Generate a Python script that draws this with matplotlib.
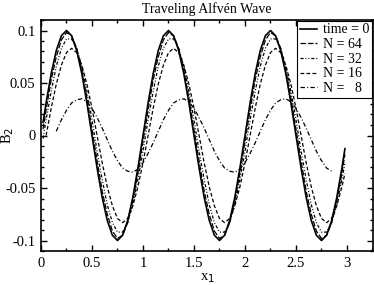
import numpy as np
import matplotlib
matplotlib.use("Agg")
import matplotlib.pyplot as plt
from matplotlib.ticker import MultipleLocator

plt.rcParams["font.family"] = ["Liberation Serif", "DejaVu Serif"]
plt.rcParams["axes.unicode_minus"] = False

# sample grid (0.05 steps) shared by most curves
grid = [round(0.05 * k, 2) for k in range(1, 60)]

# time = 0 (exact wave)
x_t0 = [0.02] + grid + [2.98]
y_t0 = [0.0125,
        0.031, 0.059, 0.081, 0.095, 0.100, 0.095, 0.081, 0.059, 0.031, 0.000,
        -0.031, -0.059, -0.081, -0.095, -0.100, -0.095, -0.081, -0.059, -0.031, 0.000,
        0.031, 0.059, 0.081, 0.095, 0.100, 0.095, 0.081, 0.059, 0.031, 0.000,
        -0.031, -0.059, -0.081, -0.095, -0.100, -0.095, -0.081, -0.059, -0.031, 0.000,
        0.031, 0.059, 0.081, 0.095, 0.100, 0.095, 0.081, 0.059, 0.031, 0.000,
        -0.031, -0.059, -0.081, -0.095, -0.100, -0.095, -0.081, -0.059, -0.031,
        -0.0125]

# N = 64
x_64 = [0.02] + grid + [2.98]
y_64 = [0.006,
        0.024, 0.053, 0.075, 0.091, 0.098, 0.095, 0.083, 0.062, 0.036, 0.006,
        -0.024, -0.053, -0.075, -0.091, -0.098, -0.095, -0.083, -0.062, -0.036, -0.006,
        0.024, 0.053, 0.075, 0.091, 0.098, 0.095, 0.083, 0.062, 0.036, 0.006,
        -0.024, -0.053, -0.075, -0.091, -0.098, -0.095, -0.083, -0.062, -0.036, -0.006,
        0.024, 0.053, 0.075, 0.091, 0.098, 0.095, 0.083, 0.062, 0.036, 0.006,
        -0.024, -0.053, -0.075, -0.091, -0.098, -0.095, -0.083, -0.062, -0.036,
        -0.018]

# N = 32
x_32 = [0.02] + grid + [2.98]
y_32 = [-0.003,
        0.015, 0.042, 0.066, 0.083, 0.092, 0.092, 0.083, 0.066, 0.042, 0.015,
        -0.015, -0.042, -0.066, -0.083, -0.092, -0.092, -0.083, -0.066, -0.042, -0.015,
        0.015, 0.042, 0.066, 0.083, 0.092, 0.092, 0.083, 0.066, 0.042, 0.015,
        -0.015, -0.042, -0.066, -0.083, -0.092, -0.092, -0.083, -0.066, -0.042, -0.015,
        0.015, 0.042, 0.066, 0.083, 0.092, 0.092, 0.083, 0.066, 0.042, 0.015,
        -0.015, -0.042, -0.066, -0.083, -0.092, -0.092, -0.083, -0.066, -0.042,
        -0.026]

# N = 16
x_16 = grid + [2.98]
y_16 = [0.000, 0.026, 0.049, 0.067, 0.079, 0.083, 0.079, 0.067, 0.049, 0.026,
        0.000, -0.026, -0.049, -0.067, -0.079, -0.083, -0.079, -0.067, -0.049, -0.026,
        0.000, 0.026, 0.049, 0.067, 0.079, 0.083, 0.079, 0.067, 0.049, 0.026,
        0.000, -0.026, -0.049, -0.067, -0.079, -0.083, -0.079, -0.067, -0.049, -0.026,
        0.000, 0.026, 0.049, 0.067, 0.079, 0.083, 0.079, 0.067, 0.049, 0.026,
        0.000, -0.026, -0.049, -0.067, -0.079, -0.083, -0.079, -0.067, -0.049,
        -0.036]

# N = 8
x_8 = grid[2:57]
y_8 = [0.004, 0.015, 0.024, 0.031, 0.034, 0.035, 0.032, 0.026, 0.017, 0.007,
       -0.004, -0.015, -0.024, -0.031, -0.034, -0.035, -0.032, -0.026, -0.017, -0.007,
       0.004, 0.015, 0.024, 0.031, 0.034, 0.035, 0.032, 0.026, 0.017, 0.007,
       -0.004, -0.015, -0.024, -0.031, -0.034, -0.035, -0.032, -0.026, -0.017, -0.007,
       0.004, 0.015, 0.024, 0.031, 0.034, 0.035, 0.032, 0.026, 0.017, 0.007,
       -0.004, -0.015, -0.024, -0.031, -0.034]

fig = plt.figure(figsize=(3.74, 2.85), dpi=100)
ax = fig.add_axes([41 / 374, 34 / 285, 332 / 374, 231 / 285])

ax.plot(x_t0, y_t0, color="black", lw=1.2, label="time = 0")
ax.plot(x_64, y_64, color="black", lw=0.9, ls=(0, (4.5, 1.5)), label="N = 64")
ax.plot(x_32, y_32, color="black", lw=0.9, ls=(0, (2.5, 1.5, 0.8, 1.5, 0.8, 1.5)), label="N = 32")
ax.plot(x_16, y_16, color="black", lw=0.9, ls=(0, (3, 1.8)), label="N = 16")
ax.plot(x_8, y_8, color="black", lw=0.9, ls=(0, (3.5, 1.8, 0.8, 1.8)), label="N =   8")

ax.set_xlim(0, 3.255)
ax.set_ylim(-0.11, 0.11)
ax.xaxis.set_minor_locator(MultipleLocator(0.25))
ax.yaxis.set_minor_locator(MultipleLocator(0.01))
ax.set_xticks([0, 0.5, 1, 1.5, 2, 2.5, 3])
ax.set_xticklabels(["0", "0.5", "1", "1.5", "2", "2.5", "3"])
ax.set_yticks([-0.1, -0.05, 0, 0.05, 0.1])
ax.set_yticklabels(["-0.1", "-0.05", "0", "0.05", "0.1"])

ax.tick_params(which="both", direction="in", top=True, right=True, labelsize=10.5, width=1)
ax.tick_params(which="major", length=4.5, pad=4)
ax.tick_params(which="minor", length=2.5)
for s in ax.spines.values():
    s.set_linewidth(1.2)

ax.set_title("Traveling Alfvén Wave", fontsize=10, pad=5)
ax.set_xlabel("x$_1$", fontsize=10.5, labelpad=1)
ax.set_ylabel("B$_2$", fontsize=10.5)
ax.yaxis.set_label_coords(-0.075, 0.5)

leg = ax.legend(loc="upper right", fontsize=10, frameon=True, fancybox=False,
                edgecolor="black", framealpha=1, handlelength=1.25, handletextpad=0.45,
                borderpad=0.2, labelspacing=0.12, borderaxespad=0.05)
leg.get_frame().set_linewidth(0.8)

fig.savefig("out.png", dpi=100)
